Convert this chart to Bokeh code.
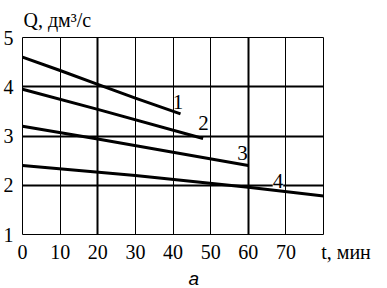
from bokeh.plotting import figure
from bokeh.models import FixedTicker, Grid, Label, Range1d, Title
from bokeh.embed import file_html
from bokeh.resources import INLINE

# time t, min  /  flow Q, dm^3/s
t1 = [0, 10, 20, 30, 42]
q1 = [4.60, 4.33, 4.05, 3.77, 3.45]
t2 = [0, 20, 48]
q2 = [3.95, 3.54, 2.95]
t3 = [0, 20, 60]
q3 = [3.20, 2.94, 2.40]
t4 = [0, 30, 60, 80]
q4 = [2.40, 2.20, 1.96, 1.78]

x_ticks = [0, 10, 20, 30, 40, 50, 60, 70, 80]
y_ticks = [1, 2, 3, 4, 5]
x_title = "t, мин"
y_title = "Q, дм³/с"
sub_caption = "а"
curve_names = ["1", "2", "3", "4"]
curve_label_x = [41.3, 48.1, 58.5, 67.9]
curve_label_y = [3.70, 3.26, 2.66, 2.09]

SERIF = "Liberation Serif"

p = figure(width=387, height=288, output_backend="svg", toolbar_location=None,
           x_range=Range1d(0, 80), y_range=Range1d(1, 5),
           min_border_left=21, min_border_right=64, min_border_top=37, min_border_bottom=52)
p.background_fill_color = "white"
p.border_fill_color = "white"
p.outline_line_color = "black"
p.outline_line_width = 1

# grid: thin lines and thick lines
p.xgrid.ticker = FixedTicker(ticks=[10, 30, 40, 50, 70, 80])
p.xgrid.grid_line_color = "black"
p.xgrid.grid_line_width = 1
p.ygrid.ticker = FixedTicker(ticks=[5])
p.ygrid.grid_line_color = "black"
p.ygrid.grid_line_width = 1
p.add_layout(Grid(dimension=0, ticker=FixedTicker(ticks=[0, 20, 60]),
                  grid_line_color="black", grid_line_width=2))
p.add_layout(Grid(dimension=1, ticker=FixedTicker(ticks=[1, 2, 3, 4]),
                  grid_line_color="black", grid_line_width=2))

# axes
for ax in (p.xaxis[0], p.yaxis[0]):
    ax.axis_line_color = None
    ax.major_tick_line_color = None
    ax.minor_tick_line_color = None
    ax.major_tick_out = 0
    ax.major_tick_in = 0
    ax.minor_tick_out = 0
    ax.minor_tick_in = 0
    ax.major_label_text_font = SERIF
    ax.major_label_text_font_size = "20px"
    ax.major_label_text_color = "black"
p.xaxis.ticker = FixedTicker(ticks=x_ticks)
p.yaxis.ticker = FixedTicker(ticks=y_ticks)
p.xaxis.major_label_overrides = {80: "\u00a0" * 9 + x_title}
p.xaxis.major_label_standoff = 6
p.yaxis.major_label_standoff = 9

# curves
for tx, qy in ((t1, q1), (t2, q2), (t3, q3), (t4, q4)):
    p.line(tx, qy, line_color="black", line_width=3)

for name, lx, ly in zip(curve_names, curve_label_x, curve_label_y):
    p.add_layout(Label(x=lx, y=ly, text=name, text_align="center", text_baseline="middle",
                       text_font=SERIF, text_font_size="21px", text_color="black",
                       background_fill_color="white" if name == "4" else None))

# titles
p.title.text = y_title
p.title.align = "left"
p.title.offset = 1
p.title.standoff = 13
p.title.text_font = SERIF
p.title.text_font_size = "20px"
p.title.text_font_style = "normal"
p.title.text_color = "black"

p.add_layout(Title(text=sub_caption, align="left", offset=166, standoff=0,
                   text_font="Liberation Sans", text_font_style="italic",
                   text_font_size="19px", text_color="black"), "below")

open("out.html", "w").write(file_html(p, INLINE))
